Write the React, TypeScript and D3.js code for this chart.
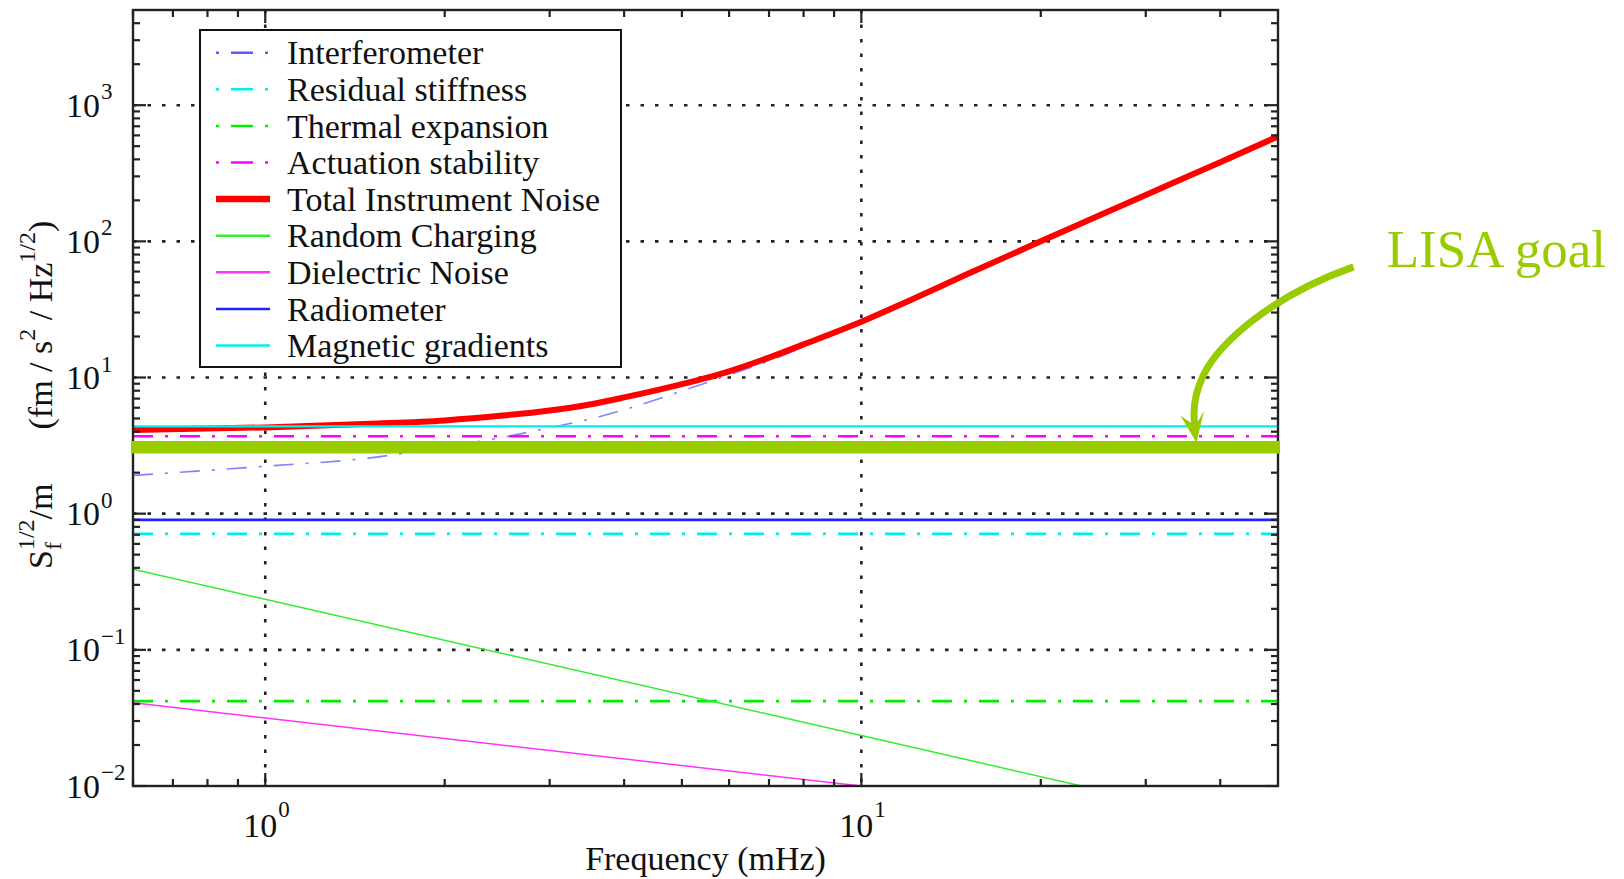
import React from 'react';
import * as d3 from 'd3';

const W = 1624;
const H = 879;
const M = { left: 133, right: 1278, top: 10, bottom: 786 };
const FONT = "'Liberation Serif', 'Times New Roman', serif";

// axis domains and ticks
const xDomain: [number, number] = [0.6, 50];
const yDomain: [number, number] = [0.01, 5000];
const xMajorTicks = [1, 10];
const xTickExponents = ['0', '1'];
const yMajorTicks = [0.01, 0.1, 1, 10, 100, 1000];
const yTickExponents = ['\u22122', '\u22121', '0', '1', '2', '3'];

// series data (frequency in mHz, value in fm/s^2/Hz^1/2)
const freqGrid = [0.6, 1, 1.5, 2, 2.5, 3, 3.5, 4, 5, 6, 7, 8, 10, 12, 15, 20, 25, 30, 40, 50];
const interferometer = [1.91, 2.23, 2.57, 3.1, 3.63, 4.28, 4.94, 5.8, 7.96, 10.45, 13.2, 16.8, 25.2, 36.2, 56.8, 99.8, 153.8, 218.9, 381, 589];
const totalNoise = [4.11, 4.3, 4.57, 4.84, 5.25, 5.73, 6.34, 7.14, 8.94, 11.1, 14.0, 17.5, 25.7, 36.5, 57, 100, 154, 219, 381, 589];
const flatFreqs = [0.6, 50];
const residualStiffness = [0.71, 0.71];
const thermalExpansion = [0.042, 0.042];
const actuationStability = [3.7, 3.7];
const radiometer = [0.9, 0.9];
const magneticGradients = [4.38, 4.38];
const chargingFreqs = [0.6, 1, 10, 23.4];
const randomCharging = [0.39, 0.235, 0.0235, 0.01];
const dielectricFreqs = [0.6, 1, 10];
const dielectricNoise = [0.0408, 0.0316, 0.01];
const lisaGoal = [3.07, 3.07];
const lisaArrowFreq = 36.5;

const DASHDOT = '20,12,3,12';

const series = [
  { name: 'Interferometer', f: freqGrid, v: interferometer, color: '#5a5aff', width: 1.6, dash: DASHDOT, opacity: 0.75, lw: 2.5 },
  { name: 'Residual stiffness', f: flatFreqs, v: residualStiffness, color: '#00eeee', width: 2.6, dash: DASHDOT, opacity: 1, lw: 2.5 },
  { name: 'Thermal expansion', f: flatFreqs, v: thermalExpansion, color: '#00ee00', width: 2.6, dash: DASHDOT, opacity: 1, lw: 2.5 },
  { name: 'Actuation stability', f: flatFreqs, v: actuationStability, color: '#ff00ff', width: 2.6, dash: DASHDOT, opacity: 1, lw: 2.5 },
  { name: 'Total Instrument Noise', f: freqGrid, v: totalNoise, color: '#ff0000', width: 6, dash: null, opacity: 1, lw: 6.5 },
  { name: 'Random Charging', f: chargingFreqs, v: randomCharging, color: '#33ee33', width: 1.5, dash: null, opacity: 1, lw: 2.5 },
  { name: 'Dielectric Noise', f: dielectricFreqs, v: dielectricNoise, color: '#ff33ff', width: 1.5, dash: null, opacity: 1, lw: 2.5 },
  { name: 'Radiometer', f: flatFreqs, v: radiometer, color: '#2222ff', width: 2.6, dash: null, opacity: 1, lw: 2.5 },
  { name: 'Magnetic gradients', f: flatFreqs, v: magneticGradients, color: '#00f0f0', width: 2.2, dash: null, opacity: 1, lw: 2.5 },
];

export default function App() {
  const x = d3.scaleLog().domain(xDomain).range([M.left, M.right]);
  const y = d3.scaleLog().domain(yDomain).range([M.bottom, M.top]);
  const line = d3
    .line<[number, number]>()
    .x((d) => x(d[0]))
    .y((d) => y(d[1]))
    .curve(d3.curveMonotoneX);

  const xMinor: number[] = [];
  [0.1, 1, 10].forEach((dec) => {
    for (let k = 2; k <= 9; k++) {
      const v = k * dec;
      if (v > xDomain[0] && v < xDomain[1]) xMinor.push(v);
    }
  });
  const yMinor: number[] = [];
  [0.01, 0.1, 1, 10, 100, 1000].forEach((dec) => {
    for (let k = 2; k <= 9; k++) {
      const v = k * dec;
      if (v > yDomain[0] && v < yDomain[1]) yMinor.push(v);
    }
  });

  const MAJ = 13;
  const MIN = 7;
  const tickStroke = '#222';

  // legend
  const lg = { x0: 200, y0: 30, x1: 621, y1: 367, rowY0: 52.7, rowH: 36.6, lineX0: 216, lineX1: 270, textX: 287 };

  // arrow anchored on goal line
  const tx = x(lisaArrowFreq);
  const ty = y(lisaGoal[0]) - 4.5;
  const arrowPath = `M${tx + 157},${ty - 176} C${tx + 72},${ty - 146} ${tx + 22},${ty - 98} ${tx + 7},${ty - 68} C${tx - 5},${ty - 43} ${tx - 3},${ty - 23} ${tx - 1},${ty - 13}`;
  const headPts = `${tx},${ty} ${tx - 16},${ty - 27} ${tx - 1},${ty - 17} ${tx + 7.5},${ty - 32}`;

  return (
    <svg
      width={W}
      height={H}
      style={{ position: 'absolute', left: 0, top: 0, background: '#fff' }}
      fontFamily={FONT}
    >
      <rect x={0} y={0} width={W} height={H} fill="#fff" />
      <defs>
        <clipPath id="plotClip">
          <rect x={M.left} y={M.top} width={M.right - M.left} height={M.bottom - M.top} />
        </clipPath>
      </defs>

      {/* grid */}
      <g stroke="#222" strokeWidth={2.6} strokeDasharray="3.5,11">
        {yMajorTicks.slice(1).map((v) => (
          <line key={'gy' + v} x1={M.left} x2={M.right} y1={y(v)} y2={y(v)} />
        ))}
        {xMajorTicks.map((v) => (
          <line key={'gx' + v} x1={x(v)} x2={x(v)} y1={M.top} y2={M.bottom} />
        ))}
      </g>

      {/* series */}
      <g clipPath="url(#plotClip)" fill="none">
        {series.map((s) => (
          <path
            key={s.name}
            d={line(s.f.map((f, i) => [f, s.v[i]] as [number, number])) || ''}
            stroke={s.color}
            strokeWidth={s.width}
            strokeDasharray={s.dash || undefined}
            strokeOpacity={s.opacity}
            strokeLinejoin="round"
          />
        ))}
      </g>

      {/* axes box and ticks */}
      <rect x={M.left} y={M.top} width={M.right - M.left} height={M.bottom - M.top} fill="none" stroke={tickStroke} strokeWidth={2.4} />
      <g stroke={tickStroke} strokeWidth={2.2}>
        {xMajorTicks.map((v) => (
          <g key={'xt' + v}>
            <line x1={x(v)} x2={x(v)} y1={M.bottom} y2={M.bottom - MAJ} />
            <line x1={x(v)} x2={x(v)} y1={M.top} y2={M.top + MAJ} />
          </g>
        ))}
        {xMinor.map((v) => (
          <g key={'xm' + v}>
            <line x1={x(v)} x2={x(v)} y1={M.bottom} y2={M.bottom - MIN} />
            <line x1={x(v)} x2={x(v)} y1={M.top} y2={M.top + MIN} />
          </g>
        ))}
        {yMajorTicks.map((v) => (
          <g key={'yt' + v}>
            <line x1={M.left} x2={M.left + MAJ} y1={y(v)} y2={y(v)} />
            <line x1={M.right} x2={M.right - MAJ} y1={y(v)} y2={y(v)} />
          </g>
        ))}
        {yMinor.map((v) => (
          <g key={'ym' + v}>
            <line x1={M.left} x2={M.left + MIN} y1={y(v)} y2={y(v)} />
            <line x1={M.right} x2={M.right - MIN} y1={y(v)} y2={y(v)} />
          </g>
        ))}
      </g>

      {/* tick labels and axis titles */}
      <g fill="#111">
        {yMajorTicks.map((v, i) => (
          <g key={'yl' + v}>
            <text x={100} y={y(v) + 11.5} fontSize={34} textAnchor="end">10</text>
            <text x={101} y={y(v) - 6} fontSize={23}>{yTickExponents[i]}</text>
          </g>
        ))}
        {xMajorTicks.map((v, i) => (
          <g key={'xl' + v}>
            <text x={x(v) + 12} y={836.7} fontSize={34} textAnchor="end">10</text>
            <text x={x(v) + 13} y={817} fontSize={23}>{xTickExponents[i]}</text>
          </g>
        ))}
        <text x={(M.left + M.right) / 2} y={870} fontSize={34} textAnchor="middle">Frequency (mHz)</text>
        <g transform={`translate(52, 569) rotate(-90)`}>
          <text x={0} y={0} fontSize={34}>
            <tspan>S</tspan>
            <tspan fontSize={24} dy={9}>f</tspan>
            <tspan fontSize={24} dx={-8} dy={-27}>1/2</tspan>
            <tspan dy={18}>/m</tspan>
            <tspan dx={54}>(fm / s</tspan>
            <tspan fontSize={24} dy={-17}>2</tspan>
            <tspan dy={17}> / Hz</tspan>
            <tspan fontSize={24} dy={-17}>1/2</tspan>
            <tspan dy={17}>)</tspan>
          </text>
        </g>
      </g>

      {/* legend */}
      <rect x={lg.x0} y={lg.y0} width={lg.x1 - lg.x0} height={lg.y1 - lg.y0} fill="#fff" stroke="#111" strokeWidth={2} />
      {series.map((s, i) => {
        const cy = lg.rowY0 + i * lg.rowH;
        return (
          <g key={'lg' + s.name}>
            <line
              x1={lg.lineX0}
              x2={lg.lineX1}
              y1={cy}
              y2={cy}
              stroke={s.color}
              strokeWidth={s.lw}
              strokeDasharray={s.dash ? '3,12,22,12,3' : undefined}
            />
            <text x={lg.textX} y={cy + 11.6} fontSize={34} fill="#111">{s.name}</text>
          </g>
        );
      })}

      {/* LISA goal line and annotation */}
      <line
        x1={M.left - 2}
        x2={M.right + 2}
        y1={y(lisaGoal[0])}
        y2={y(lisaGoal[1])}
        stroke="#99cc00"
        strokeWidth={12.5}
      />
      <path d={arrowPath} fill="none" stroke="#99cc00" strokeWidth={7} />
      <polygon points={headPts} fill="#99cc00" />
      <text x={1386.7} y={266.7} fontSize={53} fill="#99cc00">LISA goal</text>
    </svg>
  );
}
